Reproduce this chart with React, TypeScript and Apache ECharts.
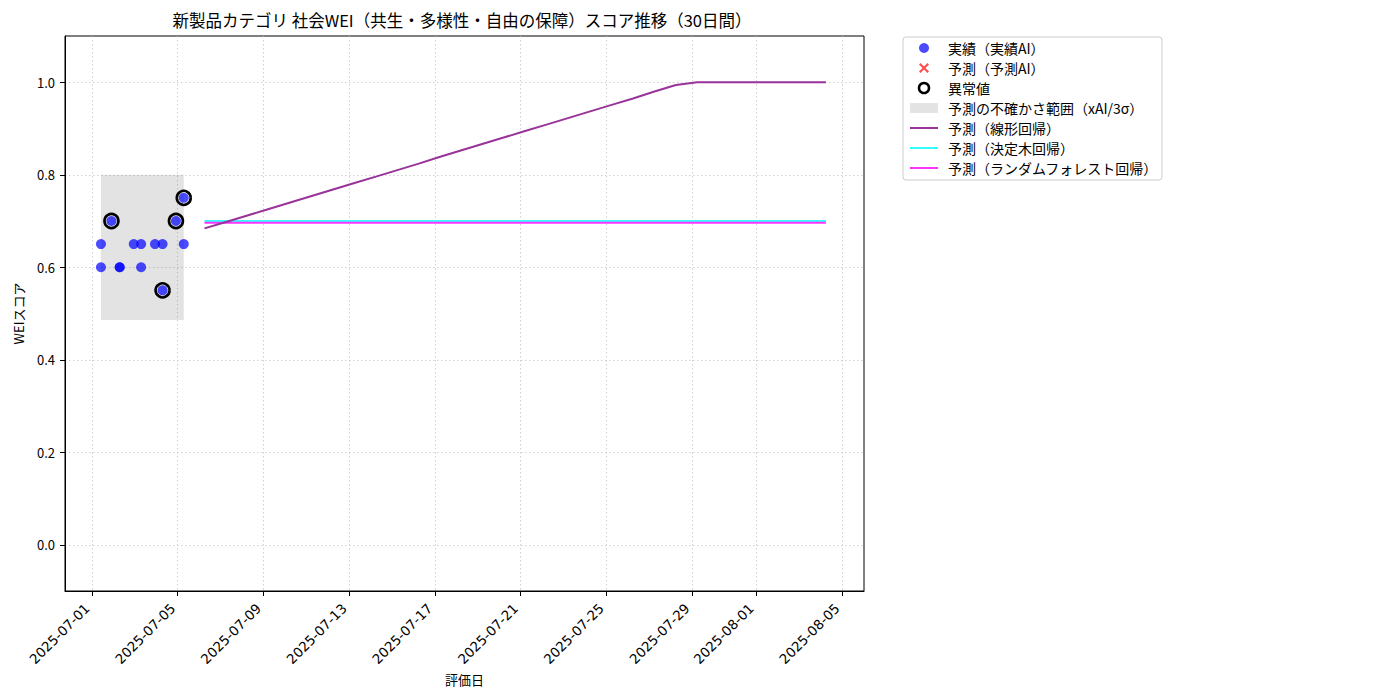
import React, { useEffect, useRef } from "react";
import * as echarts from "echarts";

const FONT = "'Noto Sans CJK JP', 'Noto Sans', sans-serif";
const TICK_FONT = "'DejaVu Sans', sans-serif";

const TITLE = "新製品カテゴリ 社会WEI（共生・多様性・自由の保障）スコア推移（30日間）";

const actualTimes = [
  "2025-07-01T10:00", "2025-07-01T10:00", "2025-07-01T21:45",
  "2025-07-02T07:00", "2025-07-02T07:00", "2025-07-02T22:45",
  "2025-07-03T07:00", "2025-07-03T07:00", "2025-07-03T22:30",
  "2025-07-04T07:00", "2025-07-04T07:00", "2025-07-04T22:00",
  "2025-07-05T06:45", "2025-07-05T06:45",
];
const actualValues = [0.65, 0.6, 0.7, 0.6, 0.6, 0.65, 0.65, 0.6, 0.65, 0.65, 0.55, 0.7, 0.75, 0.65];

const anomalyTimes = ["2025-07-01T21:45", "2025-07-04T07:00", "2025-07-04T22:00", "2025-07-05T06:45"];
const anomalyValues = [0.7, 0.55, 0.7, 0.75];

const bandStart = "2025-07-01T10:00";
const bandEnd = "2025-07-05T06:45";
const bandLow = 0.486;
const bandHigh = 0.8;

const forecastTimes = [
  "2025-07-06T06:00", "2025-07-07T06:00", "2025-07-08T06:00", "2025-07-09T06:00", "2025-07-10T06:00",
  "2025-07-11T06:00", "2025-07-12T06:00", "2025-07-13T06:00", "2025-07-14T06:00", "2025-07-15T06:00",
  "2025-07-16T06:00", "2025-07-17T06:00", "2025-07-18T06:00", "2025-07-19T06:00", "2025-07-20T06:00",
  "2025-07-21T06:00", "2025-07-22T06:00", "2025-07-23T06:00", "2025-07-24T06:00", "2025-07-25T06:00",
  "2025-07-26T06:00", "2025-07-27T06:00", "2025-07-28T06:00", "2025-07-29T06:00", "2025-07-30T06:00",
  "2025-07-31T06:00", "2025-08-01T06:00", "2025-08-02T06:00", "2025-08-03T06:00", "2025-08-04T06:00",
];
const linearValues = [
  0.684, 0.698, 0.712, 0.726, 0.740, 0.754, 0.768, 0.782, 0.796, 0.810,
  0.824, 0.839, 0.853, 0.867, 0.881, 0.895, 0.909, 0.923, 0.937, 0.951,
  0.965, 0.980, 0.994, 1.0, 1.0, 1.0, 1.0, 1.0, 1.0, 1.0,
];
const treeValues = [
  0.7, 0.7, 0.7, 0.7, 0.7, 0.7, 0.7, 0.7, 0.7, 0.7,
  0.7, 0.7, 0.7, 0.7, 0.7, 0.7, 0.7, 0.7, 0.7, 0.7,
  0.7, 0.7, 0.7, 0.7, 0.7, 0.7, 0.7, 0.7, 0.7, 0.7,
];
const forestValues = [
  0.696, 0.696, 0.696, 0.696, 0.696, 0.696, 0.696, 0.696, 0.696, 0.696,
  0.696, 0.696, 0.696, 0.696, 0.696, 0.696, 0.696, 0.696, 0.696, 0.696,
  0.696, 0.696, 0.696, 0.696, 0.696, 0.696, 0.696, 0.696, 0.696, 0.696,
];

const xTickDates = [
  "2025-07-01", "2025-07-05", "2025-07-09", "2025-07-13", "2025-07-17",
  "2025-07-21", "2025-07-25", "2025-07-29", "2025-08-01", "2025-08-05",
];
const yTicks = [0.0, 0.2, 0.4, 0.6, 0.8, 1.0];
const xMin = "2025-06-29T17:44";
const xMax = "2025-08-06T00:43";
const yMin = -0.1;
const yMax = 1.1;

const NAMES = {
  actual: "実績（実績AI）",
  predAI: "予測（予測AI）",
  anomaly: "異常値",
  band: "予測の不確かさ範囲（xAI/3σ）",
  linear: "予測（線形回帰）",
  tree: "予測（決定木回帰）",
  forest: "予測（ランダムフォレスト回帰）",
};

const ts = (s: string) => Date.parse((s.length === 10 ? s + "T00:00" : s) + ":00Z");
const pad2 = (n: number) => (n < 10 ? "0" + n : "" + n);
const fmtDate = (v: number) => {
  const d = new Date(v);
  return `${d.getUTCFullYear()}-${pad2(d.getUTCMonth() + 1)}-${pad2(d.getUTCDate())}`;
};

const X_ICON = "path://M1.5,0L5,3.5L8.5,0L10,1.5L6.5,5L10,8.5L8.5,10L5,6.5L1.5,10L0,8.5L3.5,5L0,1.5Z";
const LINE_ICON = "path://M0,0L28,0L28,2L0,2Z";

export default function App() {
  const ref = useRef<HTMLDivElement>(null);
  useEffect(() => {
    if (!ref.current) return;
    const chart = echarts.init(ref.current, undefined, { renderer: "svg" });
    const gridLine = { show: true, lineStyle: { color: "#c4c4c4", width: 0.8, type: [1.5, 2.5] as any } };
    const option: any = {
      animation: false,
      backgroundColor: "#ffffff",
      textStyle: { fontFamily: FONT },
      graphic: [
        {
          type: "text",
          x: 462,
          y: 20,
          style: {
            text: TITLE,
            fontFamily: FONT,
            fontSize: 16.5,
            fill: "#000",
            align: "center",
            verticalAlign: "middle",
          },
        },
      ],
      grid: {
        left: 65,
        top: 36,
        width: 799,
        height: 555,
        show: true,
        borderColor: "#000",
        borderWidth: 1,
        backgroundColor: "transparent",
        containLabel: false,
      },
      legend: {
        orient: "vertical",
        left: 903,
        top: 37,
        padding: [4, 4, 5, 7],
        itemWidth: 28,
        itemHeight: 10,
        itemGap: 6,
        backgroundColor: "#fff",
        borderColor: "#cccccc",
        borderWidth: 1,
        borderRadius: 3,
        selectedMode: false,
        textStyle: { fontFamily: FONT, fontSize: 14, color: "#000", lineHeight: 14, padding: [0, 0, 0, 5] },
        data: [
          { name: NAMES.actual, icon: "circle" },
          { name: NAMES.predAI, icon: X_ICON },
          { name: NAMES.anomaly, icon: "circle", itemStyle: { borderWidth: 2.5 } },
          { name: NAMES.band, icon: "rect" },
          { name: NAMES.linear, icon: LINE_ICON },
          { name: NAMES.tree, icon: LINE_ICON },
          { name: NAMES.forest, icon: LINE_ICON },
        ],
      },
      xAxis: {
        type: "value",
        min: ts(xMin),
        max: ts(xMax),
        name: "評価日",
        nameLocation: "middle",
        nameGap: 70,
        nameTextStyle: { fontFamily: FONT, fontSize: 13, color: "#000" },
        axisLine: { show: true, onZero: false, lineStyle: { color: "#000", width: 1 } },
        axisTick: { show: true, length: 5, lineStyle: { color: "#000" }, customValues: xTickDates.map(ts) },
        axisLabel: {
          show: true,
          rotate: 45,
          margin: 10,
          padding: [0, 7, 0, 0],
          fontFamily: TICK_FONT,
          fontSize: 13.5,
          color: "#000",
          customValues: xTickDates.map(ts),
          formatter: (v: number) => fmtDate(v),
        },
        splitLine: gridLine,
      },
      yAxis: {
        type: "value",
        min: yMin,
        max: yMax,
        name: "WEIスコア",
        nameLocation: "middle",
        nameGap: 40,
        nameTextStyle: { fontFamily: FONT, fontSize: 13, color: "#000" },
        axisLine: { show: true, onZero: false, lineStyle: { color: "#000", width: 1 } },
        axisTick: { show: true, length: 5, lineStyle: { color: "#000" }, customValues: yTicks },
        axisLabel: {
          show: true,
          margin: 10,
          fontFamily: FONT,
          fontSize: 13,
          color: "#000",
          customValues: yTicks,
          formatter: (v: number) => v.toFixed(1),
        },
        splitLine: gridLine,
      },
      series: [
        {
          name: NAMES.band,
          type: "custom",
          z: 1,
          itemStyle: { color: "rgba(128,128,128,0.22)" },
          encode: { x: [0, 1], y: [2, 3] },
          data: [[ts(bandStart), ts(bandEnd), bandLow, bandHigh]],
          renderItem: (params: any, api: any) => {
            const p1 = api.coord([api.value(0), api.value(3)]);
            const p2 = api.coord([api.value(1), api.value(2)]);
            return {
              type: "rect",
              shape: { x: p1[0], y: p1[1], width: p2[0] - p1[0], height: p2[1] - p1[1] },
              style: { fill: "rgba(128,128,128,0.22)" },
            };
          },
        },
        {
          name: NAMES.tree,
          type: "line",
          z: 3,
          symbol: "none",
          showSymbol: false,
          lineStyle: { color: "#33ffff", width: 2 },
          itemStyle: { color: "#33ffff" },
          data: forecastTimes.map((t, i) => [ts(t), treeValues[i]]),
        },
        {
          name: NAMES.forest,
          type: "line",
          z: 3,
          symbol: "none",
          showSymbol: false,
          lineStyle: { color: "#ff33ff", width: 2 },
          itemStyle: { color: "#ff33ff" },
          data: forecastTimes.map((t, i) => [ts(t), forestValues[i]]),
        },
        {
          name: NAMES.linear,
          type: "line",
          z: 4,
          symbol: "none",
          showSymbol: false,
          lineStyle: { color: "#993399", width: 2 },
          itemStyle: { color: "#993399" },
          data: forecastTimes.map((t, i) => [ts(t), linearValues[i]]),
        },
        {
          name: NAMES.actual,
          type: "scatter",
          z: 5,
          symbol: "circle",
          symbolSize: 10,
          itemStyle: { color: "rgba(0,0,255,0.7)", opacity: 1 },
          data: actualTimes.map((t, i) => [ts(t), actualValues[i]]),
        },
        {
          name: NAMES.predAI,
          type: "scatter",
          z: 5,
          symbol: X_ICON,
          symbolSize: 10,
          itemStyle: { color: "#ff4d4d", opacity: 1 },
          data: [],
        },
        {
          name: NAMES.anomaly,
          type: "scatter",
          z: 6,
          symbol: "circle",
          symbolSize: 14,
          itemStyle: { color: "transparent", borderColor: "#000", borderWidth: 2.6, opacity: 1 },
          data: anomalyTimes.map((t, i) => [ts(t), anomalyValues[i]]),
        },
      ],
    };
    chart.setOption(option);
    return () => chart.dispose();
  }, []);
  return (
    <div
      ref={ref}
      style={{ position: "fixed", left: 0, top: 0, width: 1400, height: 700, background: "#fff" }}
    />
  );
}
